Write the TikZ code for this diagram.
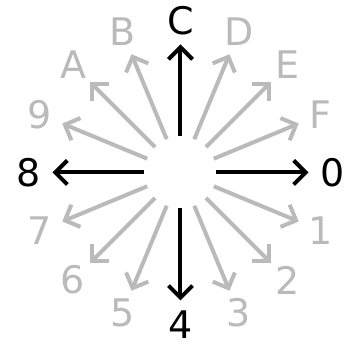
\documentclass[tikz,border=0pt]{standalone}
\usepackage{fontspec}
\setmainfont{DejaVu Sans}
\usetikzlibrary{arrows.meta}
\definecolor{lgray}{RGB}{186,186,186}
\begin{document}
\begin{tikzpicture}[x=1pt,y=1pt,
  ray/.style={line width=4pt,-{Straight Barb[length=12pt,width=24pt,line width=4pt]}},
  lbl/.style={font=\fontsize{38}{40}\selectfont,inner sep=0pt}]
\useasboundingbox (-180.5,-172.5) rectangle (168.5,172.5);
\foreach \k/\t in {0/0,1/1,2/2,3/3,4/4,5/5,6/6,7/7,8/8,9/9,10/A,11/B,12/C,13/D,14/E,15/F}{
  \pgfmathtruncatemacro{\m}{mod(\k,4)}
  \ifnum\m=0 \def\col{black}\else\def\col{lgray}\fi
  \coordinate (s\k) at ({-22.5*\k}:36);
  \coordinate (e\k) at ({-22.5*\k}:128);
  \node[lbl,text=\col] (l\k) at ({-22.5*\k}:152) {\t};
  \draw[ray,draw=\col] (s\k) -- (e\k);
}
\end{tikzpicture}
\end{document}
